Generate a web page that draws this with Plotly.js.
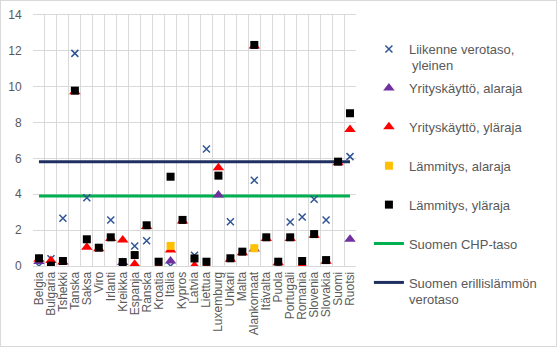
<!DOCTYPE html>
<html><head><meta charset="utf-8">
<script src="https://cdn.plot.ly/plotly-3.0.1.min.js"></script>
<style>html,body{margin:0;padding:0;background:#fff}#c{width:557px;height:347px;box-sizing:border-box;border:1px solid #d9d9d9}</style>
</head><body><div id="c"></div>
<script>
const countries = ["Belgia","Bulgaria","Tshekki","Tanska","Saksa","Viro","Irlanti","Kreikka","Espanja","Ranska","Kroatia","Italia","Kypros","Latvia","Liettua","Luxemburg","Unkari","Malta","Alankomaat","Itävalta","Puola","Portugali","Romania","Slovenia","Slovakia","Suomi","Ruotsi"];
const liikenne = [0,0.4,2.66,11.86,3.81,null,2.57,0,1.12,1.41,null,0,null,0.6,6.53,null,2.47,null,4.78,null,0,2.45,2.73,3.72,2.57,null,6.1];
const yritysAla = [0.25,null,null,null,null,null,null,0.2,null,null,null,0.28,null,null,null,3.96,null,null,0.95,null,null,null,null,null,null,null,1.49];
const yritysYla = [0.38,0.3,0.22,9.72,1.04,0.96,1.54,1.45,0.1,2.21,0.0,0.89,2.51,0.02,0.0,5.48,0.37,0.74,12.27,1.54,0.18,1.54,0.05,1.72,0.27,5.76,7.62];
const lammitysAla = [null,null,null,null,null,null,null,null,null,null,null,1.12,null,null,null,null,null,null,0.99,null,null,null,null,null,null,null,null];
const lammitysYla = [0.43,0.02,0.28,9.78,1.49,1.02,1.6,0.22,0.61,2.27,0.24,4.98,2.57,0.42,0.24,5.04,0.43,0.8,12.33,1.6,0.24,1.6,0.28,1.78,0.33,5.82,8.52];
const chpLevel = [3.9,3.9];
const erillisLevel = [5.82,5.82];
const lineX = [countries[0], countries[countries.length-1]];
const yTicks = [0,2,4,6,8,10,12,14];

const chpLine = {color:'#00b050',width:3};
const erillisLine = {color:'#1f3060',width:3};
const traces = [
  {type:'scatter',mode:'lines',x:lineX,y:chpLevel,name:'Suomen CHP-taso',line:chpLine,showlegend:false},
  {type:'scatter',mode:'lines',x:lineX,y:erillisLevel,name:'Suomen erillislämmön verotaso',line:erillisLine,showlegend:false},
  {type:'scatter',mode:'markers',x:countries,y:liikenne,name:'Liikenne verotaso,',marker:{symbol:'x-thin-open',size:7,line:{color:'#2f5597',width:1.5},color:'#2f5597'},legendgroup:'g1'},
  {type:'scatter',mode:'markers',x:countries,y:yritysAla,name:'Yrityskäyttö, alaraja',marker:{symbol:'triangle-up',size:10,color:'#7030a0'},legendgroup:'g2'},
  {type:'scatter',mode:'markers',x:countries,y:yritysYla,name:'Yrityskäyttö, yläraja',marker:{symbol:'triangle-up',size:10,color:'#ff0000'},legendgroup:'g3'},
  {type:'scatter',mode:'markers',x:countries,y:lammitysAla,name:'Lämmitys, alaraja',marker:{symbol:'square',size:8,color:'#ffc000'},legendgroup:'g4'},
  {type:'scatter',mode:'markers',x:countries,y:lammitysYla,name:'Lämmitys, yläraja',marker:{symbol:'square',size:8,color:'#000000'},legendgroup:'g5'},
  {type:'scatter',mode:'lines',x:[null],y:[null],name:'Suomen CHP-taso',line:chpLine,legendgroup:'g6'},
  {type:'scatter',mode:'lines',x:[null],y:[null],name:'Suomen erillislämmön<br>verotaso',line:erillisLine,legendgroup:'g7'}
];
const layout = {
  width:555,height:345,
  margin:{l:32,r:200,t:14,b:80,pad:0,autoexpand:false},
  paper_bgcolor:'#fff',plot_bgcolor:'#fff',
  font:{family:'Liberation Sans, Arial, sans-serif',size:12,color:'#595959'},
  showlegend:true,
  legend:{x:1.04,y:0.924,xanchor:'left',yanchor:'top',maxheight:330,font:{size:13,color:'#595959'},tracegroupgap:19,valign:'top',itemwidth:30},
  annotations:[{xref:'paper',yref:'paper',x:1.167,y:0.80,xanchor:'left',yanchor:'middle',text:'yleinen',showarrow:false,font:{size:13,color:'#595959'}}],
  xaxis:{type:'category',categoryorder:'array',categoryarray:countries,tickmode:'array',tickvals:countries,range:[-0.5,26.5],tickson:'boundaries',showgrid:true,gridcolor:'#d9d9d9',gridwidth:1,ticks:'',tickangle:-90,tickfont:{size:12,color:'#595959'},showline:true,linecolor:'#d9d9d9',mirror:true,zeroline:false},
  yaxis:{range:[0,14],tickvals:yTicks,ticktext:yTicks.map(String),showgrid:true,gridcolor:'#d9d9d9',gridwidth:1,zeroline:false,ticks:'outside',ticklen:8,tickcolor:'rgba(0,0,0,0)',tickfont:{size:12,color:'#595959'},showline:false}
};
Plotly.newPlot('c',traces,layout,{displayModeBar:false,staticPlot:true});
</script></body></html>
